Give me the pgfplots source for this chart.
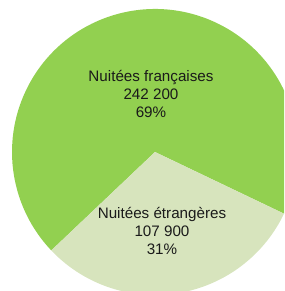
\documentclass[border=0pt]{standalone}
\usepackage{pgfplots}
\pgfplotsset{compat=1.18}
\usepackage{fontspec}
\setmainfont{Liberation Sans}
\definecolor{vert}{HTML}{92D050}
\definecolor{vertclair}{HTML}{D7E4BD}
\definecolor{texte}{HTML}{1A1A1A}
% data
\def\vFr{242200}
\def\vEt{107900}
\edef\spanEt{\fpeval{360*\vEt/(\vFr+\vEt)}}
\def\startEt{223.5}
\edef\endEt{\fpeval{\startEt+\spanEt}}
\edef\endFr{\fpeval{\startEt+360}}
\begin{document}
\begin{tikzpicture}
\begin{axis}[x=0.75pt,y=0.75pt,xmin=0,xmax=284,ymin=0,ymax=291,
  hide axis,clip=false,anchor=south west,at={(0,0)}]
\begin{scope}
\clip (axis cs:0,0) rectangle (axis cs:284,291);
\fill[vert] (axis cs:155,139) -- ++(\endEt:107.25pt)
  arc[start angle=\endEt,end angle=\endFr,radius=107.25pt] -- cycle;
\fill[vertclair] (axis cs:155,139) -- ++(\startEt:107.25pt)
  arc[start angle=\startEt,end angle=\endEt,radius=107.25pt] -- cycle;
\end{scope}
\node[align=center,text=texte,font=\fontsize{11.4}{13.5}\selectfont]
  at (axis cs:151,197) {Nuitées françaises\\242 200\\69\%};
\node[align=center,text=texte,font=\fontsize{11.4}{13.5}\selectfont]
  at (axis cs:162,60) {Nuitées étrangères\\107 900\\31\%};
\end{axis}
\pgfresetboundingbox
\useasboundingbox (0,0) rectangle (213pt,218.25pt);
\end{tikzpicture}
\end{document}
